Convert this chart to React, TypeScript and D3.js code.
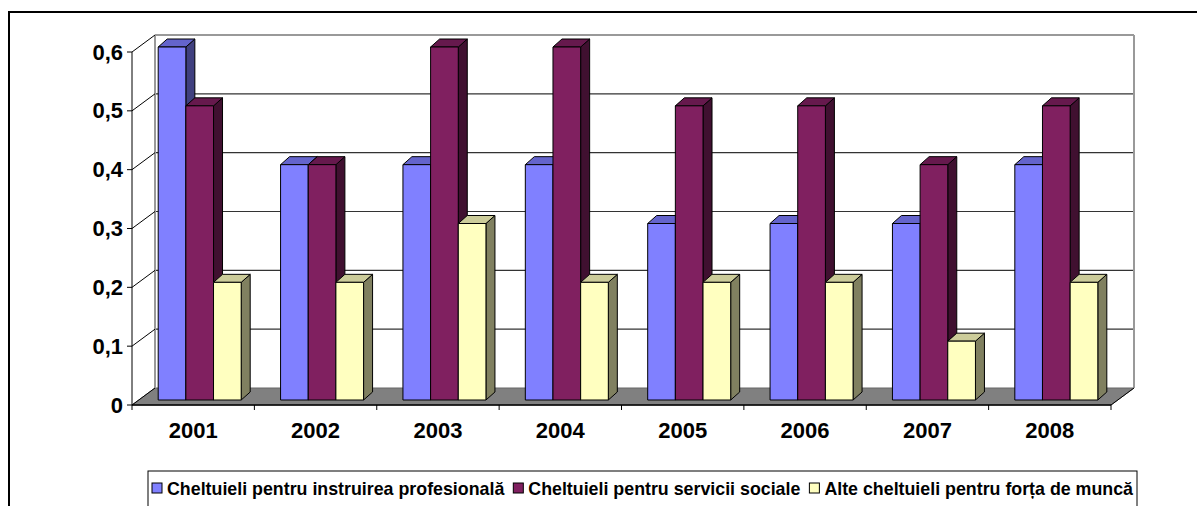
import React, { useRef, useEffect } from 'react';
import * as d3 from 'd3';

const years = ['2001', '2002', '2003', '2004', '2005', '2006', '2007', '2008'];
const instruire = [0.6, 0.4, 0.4, 0.4, 0.3, 0.3, 0.3, 0.4];
const servicii = [0.5, 0.4, 0.6, 0.6, 0.5, 0.5, 0.4, 0.5];
const alte = [0.2, 0.2, 0.3, 0.2, 0.2, 0.2, 0.1, 0.2];
const seriesNames = [
    'Cheltuieli pentru instruirea profesională',
    'Cheltuieli pentru servicii sociale',
    'Alte cheltuieli pentru forța de muncă',
];
const yTicks = [0, 0.1, 0.2, 0.3, 0.4, 0.5, 0.6];
const yTickLabels = ['0', '0,1', '0,2', '0,3', '0,4', '0,5', '0,6'];

const colors = [
    { front: '#8080FF', top: '#6464CC', side: '#40407F' },
    { front: '#802060', top: '#66194D', side: '#401030' },
    { front: '#FFFFC0', top: '#CCCC9A', side: '#808060' },
];

const W = 1197;
const H = 506;
const FONT = '"Liberation Sans", Arial, sans-serif';

export default function App() {
    const svgRef = useRef<SVGSVGElement>(null);

    useEffect(() => {
        if (!svgRef.current) return;
        const svg = d3.select(svgRef.current);
        svg.selectAll('*').remove();

        const series = [instruire, servicii, alte];

        // plot geometry (front plane + wall depth)
        const left = 132, right = 1111;
        const dx = 23, dy = -17;
        const y = d3.scaleLinear().domain([0, 0.6]).range([405, 52]);
        const x = d3.scaleBand<string>().domain(years).range([left, right]).padding(0);
        const groupW = 83;
        const inner = d3.scaleBand<number>().domain([0, 1, 2]).range([0, groupW]).padding(0);
        const barShiftX = 6.5, barShiftY = -5;
        const bdx = 9, bdy = -8;

        // chart area border
        svg.append('rect')
            .attr('x', 9).attr('y', 12)
            .attr('width', W + 20).attr('height', H + 20)
            .attr('fill', '#fff')
            .attr('stroke', '#000')
            .attr('stroke-width', 2);

        // floor
        const y0 = y(0);
        svg.append('polygon')
            .attr('points', [[left, y0], [right, y0], [right + dx, y0 + dy], [left + dx, y0 + dy]].map(p => p.join(',')).join(' '))
            .attr('fill', '#808080')
            .attr('stroke', '#666')
            .attr('stroke-width', 1);

        // back wall gridlines
        yTicks.forEach(t => {
            if (t === 0) return;
            const yy = y(t) + dy;
            svg.append('line')
                .attr('x1', left + dx).attr('x2', right + dx)
                .attr('y1', yy).attr('y2', yy)
                .attr('stroke', t === 0.6 ? '#999' : '#333')
                .attr('stroke-width', t === 0.6 ? 2 : 1.2);
        });
        // back wall edges
        svg.append('line')
            .attr('x1', left + dx).attr('x2', left + dx)
            .attr('y1', y(0.6) + dy).attr('y2', y0 + dy)
            .attr('stroke', '#999').attr('stroke-width', 2);
        svg.append('line')
            .attr('x1', right + dx).attr('x2', right + dx)
            .attr('y1', y(0.6) + dy).attr('y2', y0 + dy)
            .attr('stroke', '#999').attr('stroke-width', 2);

        // side wall slanted lines and y ticks
        yTicks.forEach(t => {
            svg.append('line')
                .attr('x1', left).attr('x2', left + dx)
                .attr('y1', y(t)).attr('y2', y(t) + dy)
                .attr('stroke', '#000').attr('stroke-width', 1);
            svg.append('line')
                .attr('x1', left - 5).attr('x2', left)
                .attr('y1', y(t)).attr('y2', y(t))
                .attr('stroke', '#000').attr('stroke-width', 1);
        });
        svg.append('line')
            .attr('x1', right).attr('x2', right + dx)
            .attr('y1', y0).attr('y2', y0 + dy)
            .attr('stroke', '#000').attr('stroke-width', 1);

        // y axis
        svg.append('line')
            .attr('x1', left).attr('x2', left)
            .attr('y1', y(0.6)).attr('y2', y0)
            .attr('stroke', '#000').attr('stroke-width', 1);
        // x axis
        svg.append('line')
            .attr('x1', left).attr('x2', right)
            .attr('y1', y0).attr('y2', y0)
            .attr('stroke', '#000').attr('stroke-width', 1.5);
        years.forEach((yr, i) => {
            const tx = left + i * x.bandwidth();
            svg.append('line')
                .attr('x1', tx).attr('x2', tx)
                .attr('y1', y0).attr('y2', y0 + 5)
                .attr('stroke', '#000');
        });
        svg.append('line')
            .attr('x1', right).attr('x2', right)
            .attr('y1', y0).attr('y2', y0 + 5)
            .attr('stroke', '#000');

        // y labels
        yTicks.forEach((t, i) => {
            svg.append('text')
                .attr('x', 123).attr('y', y(t))
                .attr('text-anchor', 'end')
                .attr('dominant-baseline', 'central')
                .attr('font-family', FONT)
                .attr('font-weight', 'bold')
                .attr('font-size', 22)
                .text(yTickLabels[i]);
        });

        // x labels
        years.forEach(yr => {
            svg.append('text')
                .attr('x', (x(yr) ?? 0) + x.bandwidth() / 2)
                .attr('y', 438)
                .attr('text-anchor', 'middle')
                .attr('font-family', FONT)
                .attr('font-weight', 'bold')
                .attr('font-size', 22)
                .text(yr);
        });

        // bars
        const barW = inner.bandwidth();
        const bars = svg.append('g').attr('stroke', '#000').attr('stroke-width', 1).attr('stroke-linejoin', 'round');
        years.forEach((yr, i) => {
            const gx = (x(yr) ?? 0) + (x.bandwidth() - groupW) / 2 + barShiftX;
            series.forEach((vals, s) => {
                const v = vals[i];
                const x1 = gx + (inner(s) ?? 0);
                const x2 = x1 + barW;
                const yb = y(0) + barShiftY;
                const yt = y(v) + barShiftY;
                const c = colors[s];
                bars.append('polygon')
                    .attr('points', [[x2, yb], [x2 + bdx, yb + bdy], [x2 + bdx, yt + bdy], [x2, yt]].map(p => p.join(',')).join(' '))
                    .attr('fill', c.side);
                bars.append('polygon')
                    .attr('points', [[x1, yt], [x1 + bdx, yt + bdy], [x2 + bdx, yt + bdy], [x2, yt]].map(p => p.join(',')).join(' '))
                    .attr('fill', c.top);
                bars.append('rect')
                    .attr('x', x1).attr('y', yt)
                    .attr('width', barW).attr('height', yb - yt)
                    .attr('fill', c.front);
            });
        });

        // legend: box 148..1137, entries fitted inside
        const legY = 471, legL = 148, legR = 1137;
        svg.append('rect')
            .attr('x', legL).attr('y', legY)
            .attr('width', legR - legL).attr('height', 60)
            .attr('fill', '#fff')
            .attr('stroke', '#000')
            .attr('stroke-width', 1);
        const items = svg.append('g');
        const texts = seriesNames.map(name => items.append('text')
            .attr('y', legY + 24)
            .attr('font-family', FONT)
            .attr('font-weight', 'bold')
            .attr('font-size', 19)
            .text(name));
        const lens = texts.map(t => (t.node() as SVGTextElement).getComputedTextLength());
        const sq = 10, gapSq = 5, gapItem = 9, pad = 4;
        const avail = legR - legL - 2 * pad - 3 * (sq + gapSq) - 2 * gapItem;
        const k = avail / d3.sum(lens);
        let cx = legL + pad;
        seriesNames.forEach((name, s) => {
            items.append('rect')
                .attr('x', cx).attr('y', legY + 12)
                .attr('width', sq).attr('height', sq)
                .attr('fill', colors[s].front)
                .attr('stroke', '#000');
            const tl = lens[s] * k;
            texts[s]
                .attr('x', cx + sq + gapSq)
                .attr('textLength', tl)
                .attr('lengthAdjust', 'spacingAndGlyphs');
            cx += sq + gapSq + tl + gapItem;
        });
    }, []);

    return (
        <svg
            ref={svgRef}
            width={W}
            height={H}
            style={{ position: 'absolute', left: 0, top: 0, background: '#fff' }}
        />
    );
}
